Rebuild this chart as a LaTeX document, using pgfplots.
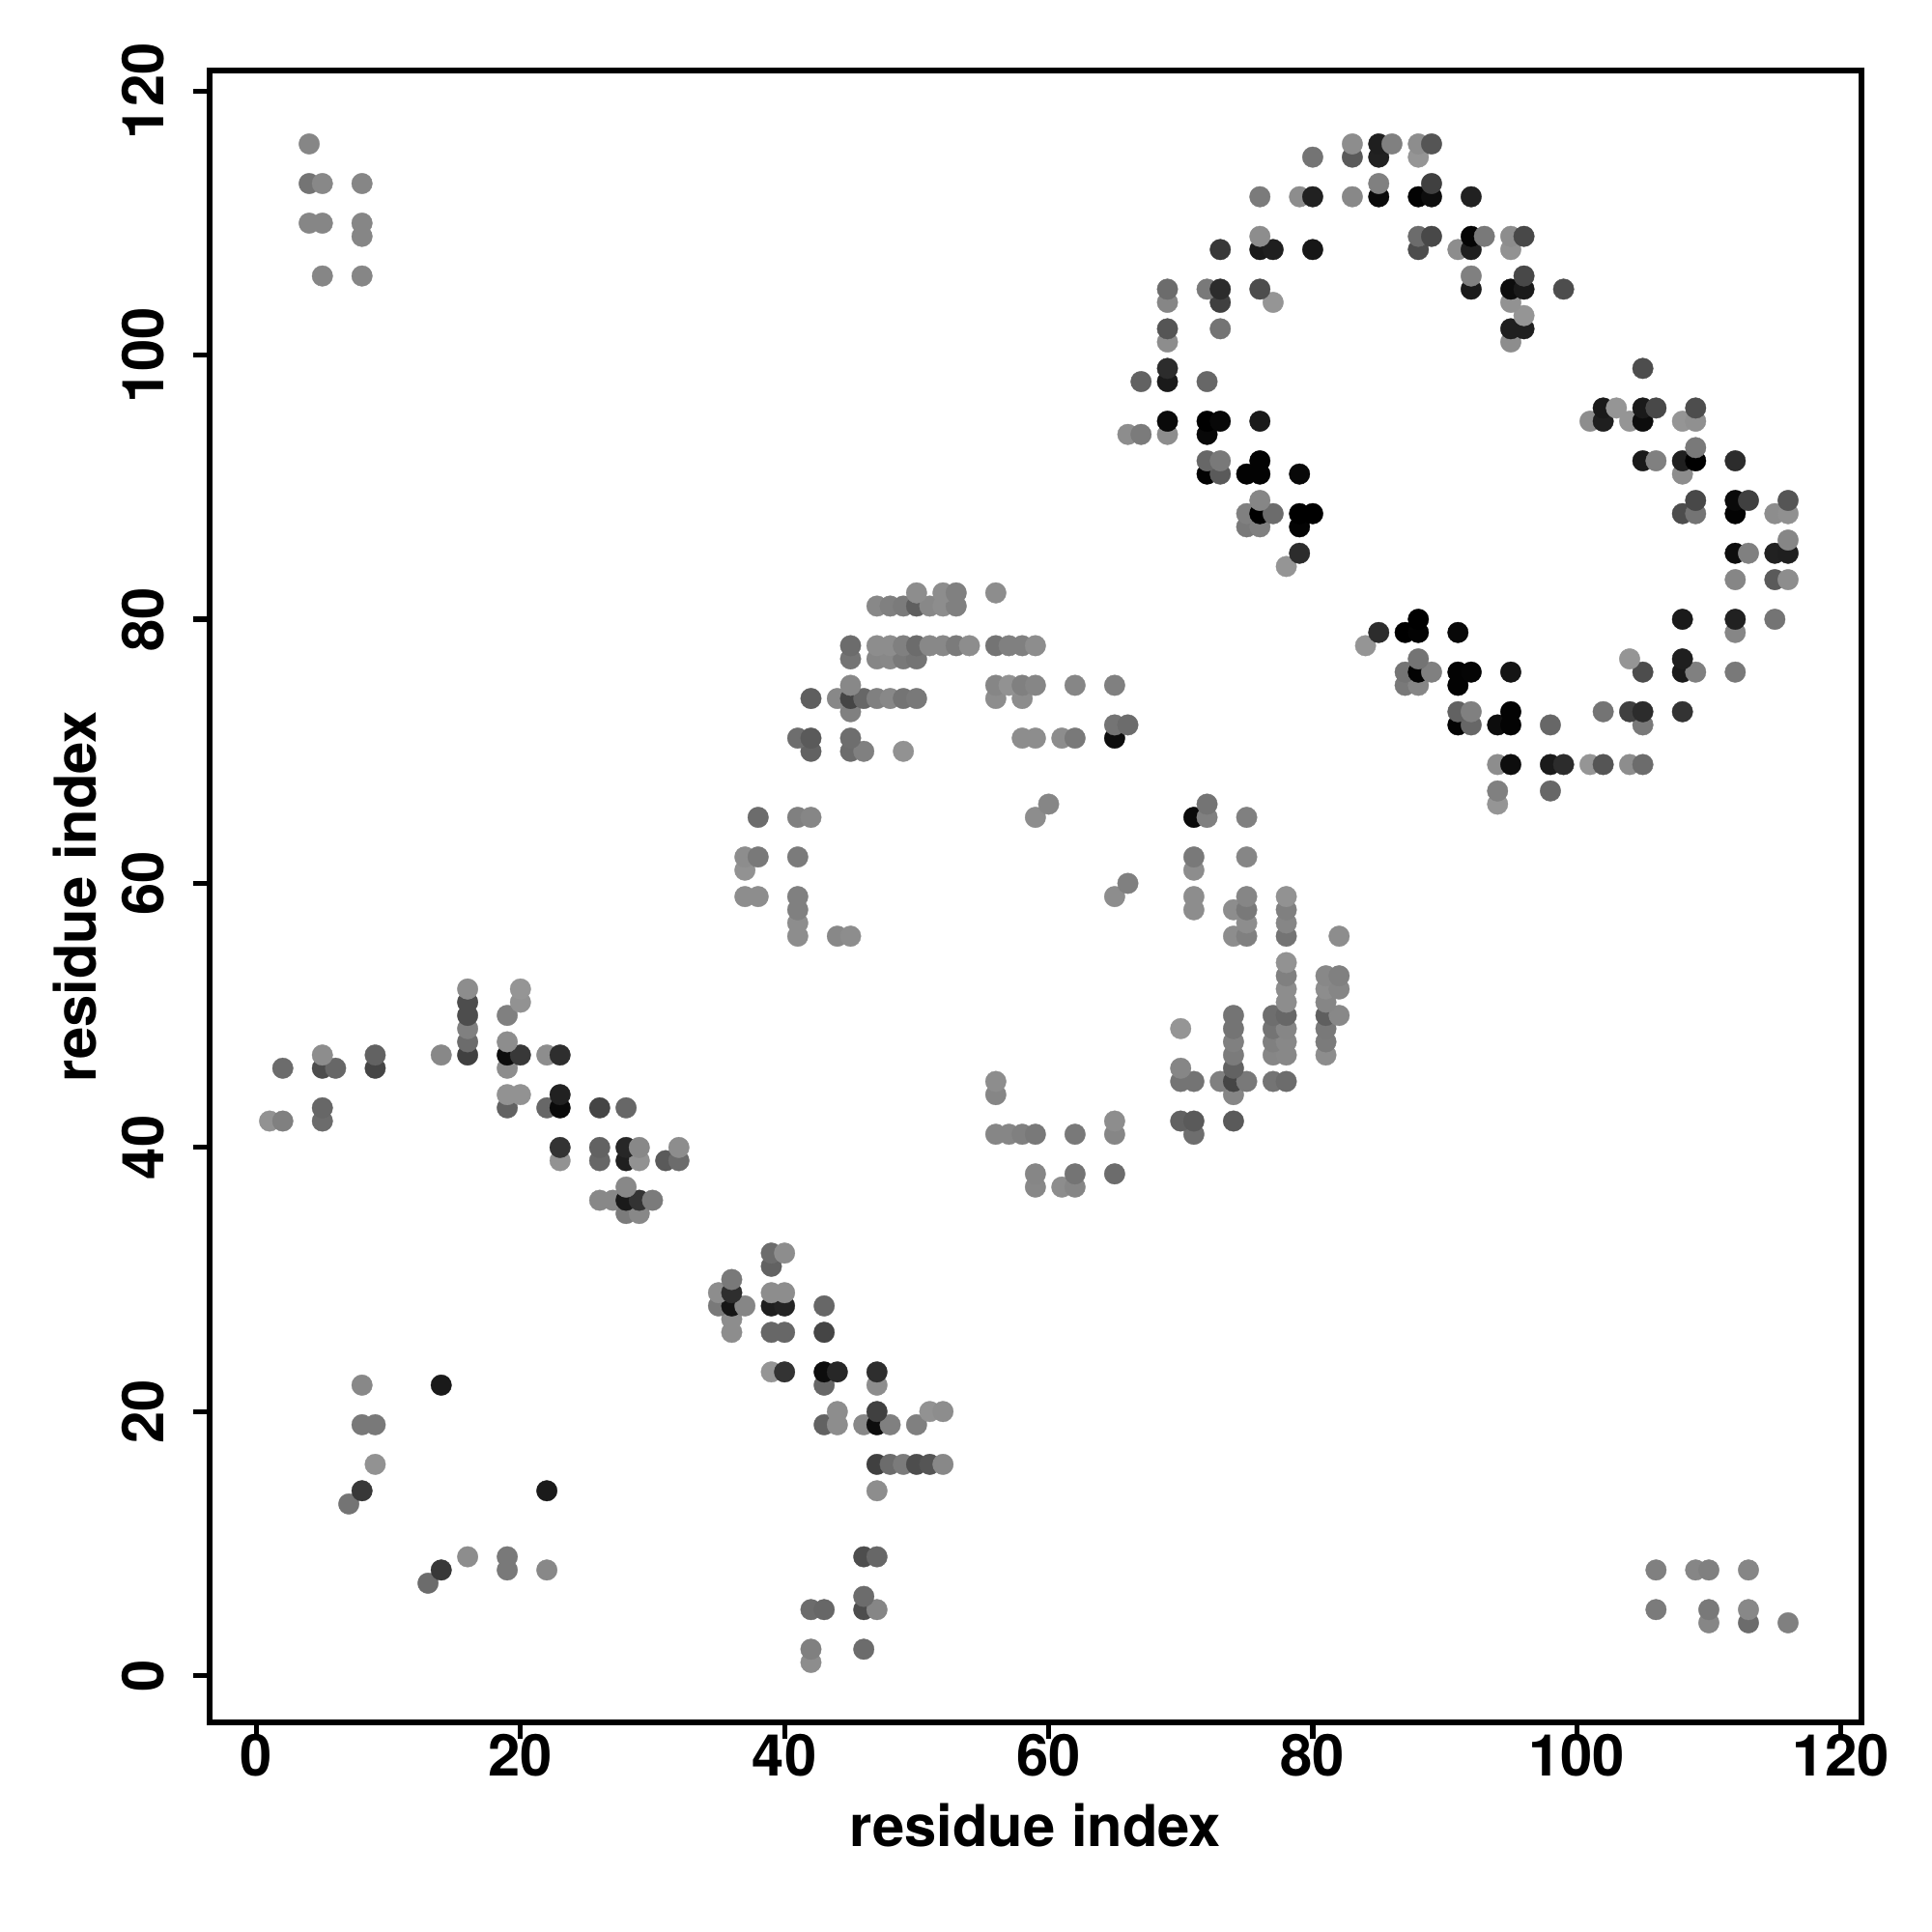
\documentclass[border=0pt]{standalone}
\usepackage{pgfplots}
\usepackage{pgfplotstable}
\usepackage{fontspec}
\setmainfont{TeX Gyre Heros}
\pgfplotsset{compat=1.18}
\pgfplotstableread{
x y g
42 1 .55
42 2 .5
46 2 .42
110 4 .52
113 4 .42
116 4 .5
42 5 .42
43 5 .4
46 5 .3
47 5 .52
106 5 .48
110 5 .47
113 5 .53
46 6 .42
13 7 .42
14 8 .22
19 8 .47
22 8 .53
106 8 .5
109 8 .52
110 8 .5
113 8 .52
16 9 .55
19 9 .47
46 9 .3
47 9 .4
7 13 .45
8 14 .22
22 14 .1
47 14 .55
9 16 .57
47 16 .25
48 16 .42
49 16 .48
50 16 .3
51 16 .33
52 16 .53
8 19 .47
9 19 .47
43 19 .38
44 19 .55
46 19 .53
47 19 .05
48 19 .5
50 19 .5
44 20 .55
47 20 .25
51 20 .57
52 20 .55
8 22 .53
14 22 .1
43 22 .4
47 22 .55
39 23 .58
40 23 .2
43 23 .05
44 23 .15
47 23 .18
36 26 .55
39 26 .4
40 26 .4
43 26 .27
36 27 .55
35 28 .47
36 28 .08
37 28 .52
39 28 .12
40 28 .14
43 28 .4
35 29 .55
36 29 .18
39 29 .55
40 29 .55
36 30 .47
39 31 .38
39 32 .42
40 32 .55
28 35 .48
29 35 .53
26 36 .53
27 36 .53
28 36 .1
29 36 .2
30 36 .48
28 37 .53
59 37 .53
61 37 .55
62 37 .52
59 38 .52
62 38 .45
65 38 .42
23 39 .57
26 39 .4
28 39 .12
29 39 .57
31 39 .35
32 39 .42
23 40 .2
26 40 .38
28 40 .15
29 40 .53
32 40 .55
56 41 .52
57 41 .52
58 41 .5
59 41 .47
62 41 .47
65 41 .52
71 41 .43
1 42 .57
2 42 .5
5 42 .42
65 42 .55
70 42 .38
71 42 .35
74 42 .35
5 43 .4
19 43 .38
22 43 .4
23 43 .04
26 43 .27
28 43 .4
19 44 .57
20 44 .57
23 44 .13
56 44 .52
74 44 .52
56 45 .55
70 45 .45
71 45 .45
73 45 .5
74 45 .27
75 45 .47
77 45 .45
78 45 .42
2 46 .42
5 46 .3
6 46 .4
9 46 .27
19 46 .55
70 46 .52
74 46 .38
5 47 .55
9 47 .38
14 47 .53
16 47 .25
19 47 .05
20 47 .22
22 47 .55
23 47 .18
74 47 .48
77 47 .52
78 47 .53
81 47 .55
16 48 .42
19 48 .55
74 48 .5
77 48 .5
78 48 .53
81 48 .48
16 49 .5
70 49 .58
74 49 .45
77 49 .45
78 49 .52
81 49 .47
16 50 .3
19 50 .5
74 50 .45
77 50 .43
78 50 .4
81 50 .37
82 50 .53
16 51 .3
20 51 .57
78 51 .55
81 51 .52
16 52 .55
20 52 .58
78 52 .55
81 52 .55
82 52 .52
78 53 .5
81 53 .53
82 53 .5
78 54 .57
41 56 .55
44 56 .53
45 56 .55
74 56 .55
75 56 .5
78 56 .45
82 56 .55
41 57 .55
75 57 .55
78 57 .52
41 58 .5
71 58 .55
74 58 .55
75 58 .47
78 58 .5
37 59 .55
38 59 .55
41 59 .5
65 59 .55
71 59 .55
75 59 .52
78 59 .57
66 60 .5
37 61 .57
71 61 .55
37 62 .55
38 62 .47
41 62 .48
71 62 .47
75 62 .52
38 65 .42
41 65 .5
42 65 .52
59 65 .55
71 65 .04
72 65 .5
75 65 .5
60 66 .52
72 66 .45
94 66 .58
94 67 .5
98 67 .4
94 69 .55
95 69 .05
98 69 .1
99 69 .17
101 69 .58
102 69 .33
104 69 .55
105 69 .42
42 70 .38
45 70 .42
46 70 .5
49 70 .57
41 71 .43
42 71 .35
45 71 .43
58 71 .55
59 71 .55
61 71 .55
62 71 .47
65 71 .05
65 72 .45
66 72 .42
91 72 .01
92 72 .4
94 72 .05
95 72 .01
98 72 .4
105 72 .47
45 73 .5
91 73 .38
92 73 .5
95 73 .01
102 73 .45
104 73 .25
105 73 .17
108 73 .2
42 74 .37
44 74 .53
45 74 .27
46 74 .4
47 74 .5
48 74 .53
49 74 .45
50 74 .47
56 74 .55
58 74 .55
45 75 .53
56 75 .52
57 75 .57
58 75 .5
59 75 .52
62 75 .52
65 75 .5
87 75 .47
88 75 .52
91 75 .01
87 76 .45
88 76 .01
89 76 .5
91 76 .01
92 76 .02
95 76 .08
105 76 .3
108 76 .1
109 76 .5
112 76 .47
45 77 .45
47 77 .52
48 77 .53
49 77 .47
50 77 .45
88 77 .45
104 77 .58
108 77 .12
45 78 .42
47 78 .55
48 78 .55
49 78 .5
50 78 .42
51 78 .53
52 78 .53
53 78 .48
54 78 .55
56 78 .45
57 78 .5
58 78 .5
59 78 .55
84 78 .58
85 79 .17
87 79 .0
88 79 .01
91 79 .03
112 79 .52
88 80 .0
108 80 .1
112 80 .13
115 80 .45
47 81 .53
48 81 .5
49 81 .48
50 81 .37
51 81 .53
52 81 .55
53 81 .5
50 82 .55
52 82 .55
53 82 .5
56 82 .55
112 83 .52
115 83 .35
116 83 .55
78 84 .58
79 85 .17
112 85 .05
113 85 .5
115 85 .13
116 85 .12
116 86 .52
75 87 .47
76 87 .5
79 87 .01
75 88 .5
76 88 .0
77 88 .42
79 88 .0
80 88 .0
108 88 .3
109 88 .45
112 88 .01
115 88 .55
116 88 .56
76 89 .52
109 89 .28
112 89 .04
113 89 .25
116 89 .33
72 91 .01
73 91 .35
75 91 .01
76 91 .01
79 91 .03
108 91 .55
72 92 .4
73 92 .47
76 92 .01
105 92 .1
106 92 .5
108 92 .12
109 92 .0
112 92 .17
109 93 .47
66 94 .55
67 94 .48
69 94 .55
72 94 .03
69 95 .04
72 95 .0
73 95 .03
76 95 .1
101 95 .55
102 95 .12
104 95 .58
105 95 .05
108 95 .58
109 95 .56
102 96 .1
103 96 .58
105 96 .1
106 96 .28
109 96 .3
67 98 .38
69 98 .1
72 98 .4
69 99 .17
105 99 .3
69 101 .55
95 101 .55
69 102 .33
73 102 .45
95 102 .12
96 102 .12
96 103 .58
69 104 .52
73 104 .25
77 104 .58
95 104 .57
69 105 .42
72 105 .47
73 105 .17
76 105 .3
92 105 .1
95 105 .05
96 105 .1
99 105 .3
5 106 .52
8 106 .52
92 106 .5
96 106 .28
73 108 .22
76 108 .1
77 108 .12
80 108 .09
88 108 .3
91 108 .55
92 108 .12
95 108 .57
8 109 .52
76 109 .55
88 109 .42
89 109 .28
92 109 .02
93 109 .47
95 109 .55
96 109 .28
4 110 .52
5 110 .52
8 110 .52
76 112 .48
79 112 .55
80 112 .13
83 112 .53
85 112 .04
88 112 .01
89 112 .05
92 112 .13
4 113 .45
5 113 .53
8 113 .52
85 113 .5
89 113 .25
80 115 .45
83 115 .35
85 115 .13
88 115 .58
4 116 .52
83 116 .55
85 116 .12
86 116 .5
88 116 .55
89 116 .33
}\contacts
\begin{document}
\begin{tikzpicture}
\path[use as bounding box] (0,0) rectangle (20cm,20cm);
\begin{axis}[
  at={(2.17cm,2.17cm)}, anchor=south west,
  width=17.10cm, height=17.10cm, scale only axis,
  xmin=-3.54, xmax=121.56, ymin=-3.54, ymax=121.56,
  axis line style={line width=1.5pt, black},
  tick style={line width=1.5pt, black},
  tick align=outside, major tick length=0.17cm,
  xtick={0,20,40,60,80,100,120}, ytick={0,20,40,60,80,100,120},
  xticklabels={0,20,40,60,80,100,120}, yticklabels={0,20,40,60,80,100,120},
  xtick pos=bottom, ytick pos=left,
  tick label style={font=\fontsize{17}{20}\selectfont\bfseries},
  xticklabel style={anchor=base, yshift=-0.385cm},
  yticklabel style={rotate=90, anchor=base, yshift=0.3cm},
  xlabel={residue index}, ylabel={residue index},
  label style={font=\fontsize{17}{20}\selectfont\bfseries},
  xlabel style={at={(axis description cs:0.5,0)}, anchor=base, yshift=-1.285cm},
  ylabel style={at={(axis description cs:0,0.5)}, anchor=base, rotate=0, yshift=1.17cm},
  colormap={bw}{gray(0cm)=(0); gray(1cm)=(1)},
  point meta min=0, point meta max=1,
  clip=false,
]
\addplot[only marks, mark=*, mark size=3.05pt,
  mark options={line width=0.1pt},
  scatter, scatter src=explicit,
  scatter/use mapped color={draw=mapped color, fill=mapped color}]
  table[x=x, y=y, meta=g] {\contacts};
\end{axis}
\end{tikzpicture}
\end{document}
